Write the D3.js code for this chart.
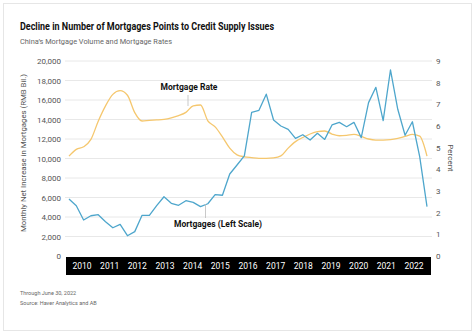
<!DOCTYPE html>
<html>
<head>
  <meta charset="utf-8" />
  <script src="https://d3js.org/d3.v7.min.js"></script>
</head>
<style>
body {
  margin: 0;
  background: #fff;
}
text {
  font-family: Roboto, 'Liberation Sans', sans-serif;
}
</style>
<body>
<div id="viz"></div>
<script>
'use strict';

// quarterly, Q1 2010 .. Q2 2022
const mortgages = [
  5850, 5160, 3690, 4130, 4240, 3520, 2900, 3250, 2080, 2500,
  4170, 4170, 5160, 6080, 5400, 5200, 5670, 5500, 5060, 5360,
  6290, 6230, 8410, 9330, 10260, 14740, 14940, 16600, 13950, 13330,
  12990, 12070, 12440, 11900, 12580, 11960, 13440, 13710, 13260, 13710,
  12140, 15730, 17300, 13880, 19080, 15050, 12380, 13770, 10190, 5060
];
const rates = [
  4.61, 4.92, 5.04, 5.38, 6.22, 6.93, 7.46, 7.63, 7.42, 6.62,
  6.23, 6.26, 6.28, 6.31, 6.38, 6.48, 6.63, 6.93, 6.97, 6.24,
  5.96, 5.50, 4.98, 4.67, 4.58, 4.54, 4.51, 4.51, 4.53, 4.62,
  4.98, 5.28, 5.47, 5.63, 5.74, 5.77, 5.63, 5.55, 5.57, 5.61,
  5.52, 5.40, 5.35, 5.35, 5.37, 5.43, 5.52, 5.61, 5.53, 4.61
];
const years = d3.range(2010, 2023).map(String);
const leftTicks = d3.range(0, 20001, 2000);
const rightTicks = d3.range(0, 10);

const blue = '#4ea6cc';
const gold = '#f5c76e';

const W = 474, H = 335;
const svg = d3.select('#viz').append('svg')
  .attr('width', W)
  .attr('height', H);

// card frame
svg.append('rect')
  .attr('x', 3.5).attr('y', 3.5)
  .attr('width', 468).attr('height', 327)
  .attr('fill', '#fff')
  .attr('stroke', '#e6e6e6');

svg.append('text')
  .attr('x', 20).attr('y', 30)
  .attr('font-size', 10).attr('font-weight', 700)
  .attr('fill', '#111')
  .attr('textLength', 254).attr('lengthAdjust', 'spacingAndGlyphs')
  .text('Decline in Number of Mortgages Points to Credit Supply Issues');

svg.append('text')
  .attr('x', 20).attr('y', 44)
  .attr('font-size', 8).attr('fill', '#666')
  .attr('textLength', 152).attr('lengthAdjust', 'spacingAndGlyphs')
  .text('China\u2019s Mortgage Volume and Mortgage Rates');

const x = d3.scaleLinear().domain([0, mortgages.length - 1]).range([69, 427]);
const yL = d3.scaleLinear().domain([0, 20000]).range([256, 61]);
const yR = d3.scaleLinear().domain([0, 9]).range([256, 61]);

// grid
svg.append('g').selectAll('line').data(leftTicks.filter(d => d > 0))
  .join('line')
  .attr('x1', 65).attr('x2', 432)
  .attr('y1', d => yL(d)).attr('y2', d => yL(d))
  .attr('stroke', '#e8e8e8').attr('stroke-width', 1);

// left axis
const axL = svg.append('g')
  .attr('transform', 'translate(61,0)')
  .call(d3.axisLeft(yL).tickValues(leftTicks).tickSize(0).tickPadding(0)
    .tickFormat(d3.format(',')));
axL.select('.domain').remove();
axL.selectAll('text').attr('font-size', 8).attr('fill', '#555')
  .style('font-family', 'Roboto, sans-serif');

// right axis
const axR = svg.append('g')
  .attr('transform', 'translate(436,0)')
  .call(d3.axisRight(yR).tickValues(rightTicks).tickSize(0).tickPadding(0));
axR.select('.domain').remove();
axR.selectAll('text').attr('font-size', 8).attr('fill', '#555')
  .style('font-family', 'Roboto, sans-serif');

svg.append('text')
  .attr('transform', 'translate(26,153) rotate(-90)')
  .attr('text-anchor', 'middle')
  .attr('font-size', 7.8).attr('fill', '#555')
  .text('Monthly Net Increase in Mortgages (RMB Bil.)');

svg.append('text')
  .attr('transform', 'translate(448,158) rotate(90)')
  .attr('text-anchor', 'middle')
  .attr('font-size', 8).attr('fill', '#555')
  .text('Percent');

// year band
svg.append('rect')
  .attr('x', 66).attr('y', 257)
  .attr('width', 365).attr('height', 18)
  .attr('fill', '#000');
const xYear = d3.scalePoint().domain(years).range([82, 414]);
svg.append('g').selectAll('text').data(years)
  .join('text')
  .attr('x', d => xYear(d)).attr('y', 269)
  .attr('text-anchor', 'middle')
  .attr('font-size', 8.5).attr('fill', '#fff')
  .text(d => d);

// lines
svg.append('path')
  .datum(rates)
  .attr('fill', 'none')
  .attr('stroke', gold).attr('stroke-width', 1.3)
  .attr('d', d3.line().x((d, i) => x(i)).y(d => yR(d)).curve(d3.curveMonotoneX));

svg.append('path')
  .datum(mortgages)
  .attr('fill', 'none')
  .attr('stroke', blue).attr('stroke-width', 1.3)
  .attr('stroke-linejoin', 'round')
  .attr('d', d3.line().x((d, i) => x(i)).y(d => yL(d)));

// annotations
svg.append('line')
  .attr('x1', 188).attr('x2', 188).attr('y1', 95).attr('y2', 106)
  .attr('stroke', '#bbb').attr('stroke-width', 0.8);
svg.append('text')
  .attr('x', 189).attr('y', 90)
  .attr('text-anchor', 'middle')
  .attr('font-size', 8.5).attr('font-weight', 700).attr('fill', '#111')
  .text('Mortgage Rate');

svg.append('line')
  .attr('x1', 205.5).attr('x2', 205.5).attr('y1', 204).attr('y2', 218)
  .attr('stroke', '#bbb').attr('stroke-width', 0.8);
svg.append('text')
  .attr('x', 218).attr('y', 227)
  .attr('text-anchor', 'middle')
  .attr('font-size', 8.5).attr('font-weight', 700).attr('fill', '#111')
  .text('Mortgages (Left Scale)');

// notes
svg.append('text')
  .attr('x', 20).attr('y', 295)
  .attr('font-size', 5.5).attr('fill', '#666')
  .text('Through June 30, 2022');
svg.append('text')
  .attr('x', 20).attr('y', 305)
  .attr('font-size', 5.5).attr('fill', '#666')
  .text('Source: Haver Analytics and AB');
</script>
</body>
</html>
